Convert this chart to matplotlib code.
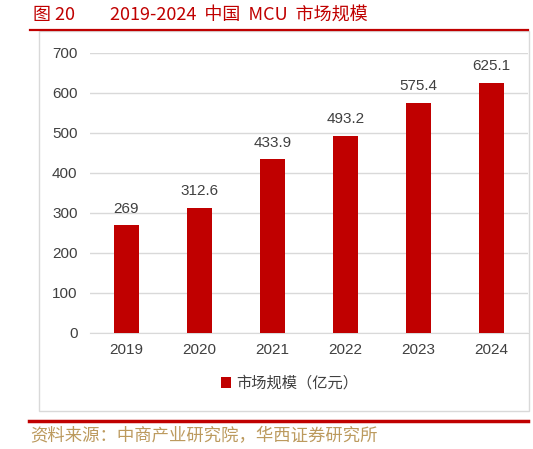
import matplotlib.pyplot as plt
from matplotlib.patches import Rectangle
from matplotlib.lines import Line2D

plt.rcParams['font.family'] = ['Noto Sans CJK SC', 'DejaVu Sans']

years = ['2019', '2020', '2021', '2022', '2023', '2024']
market_size = [269, 312.6, 433.9, 493.2, 575.4, 625.1]
value_labels = ['269', '312.6', '433.9', '493.2', '575.4', '625.1']
yticks = [0, 100, 200, 300, 400, 500, 600, 700]

red = '#C00000'
grey_text = '#404040'
num_font = ['Liberation Sans', 'DejaVu Sans']

fig = plt.figure(figsize=(5.33, 4.49), dpi=100)

# outer frame of the chart area
fig.patches.append(Rectangle((39 / 533, 1 - 411 / 449), (529 - 39) / 533, (411 - 31) / 449,
                             transform=fig.transFigure, fill=False, edgecolor='#D9D9D9', lw=1))
# title rule and footer rule
fig.lines.append(Line2D([30 / 533, 528 / 533], [1 - 30 / 449] * 2, transform=fig.transFigure,
                        color=red, lw=1.6))
fig.lines.append(Line2D([29 / 533, 528 / 533], [1 - 421 / 449] * 2, transform=fig.transFigure,
                        color=red, lw=2.5))

fig.text(33 / 533, 1 - 15 / 449, '图 20', color=red, fontsize=13, va='center', ha='left')
fig.text(110 / 533, 1 - 15 / 449, '2019-2024  中国  MCU  市场规模', color=red, fontsize=13,
         va='center', ha='left')
fig.text(30 / 533, 1 - 436 / 449, '资料来源：中商产业研究院，华西证券研究所', color='#BC9A5E',
         fontsize=12.5, va='center', ha='left')

ax = fig.add_axes([90 / 533, 1 - 333 / 449, (528 - 90) / 533, (333 - 53) / 449])
bars = ax.bar(years, market_size, width=0.33, color=red, zorder=3, label='市场规模（亿元）')
for b, lab in zip(bars, value_labels):
    ax.annotate(lab, (b.get_x() + b.get_width() / 2, b.get_height()), xytext=(0, 7),
                textcoords='offset points', ha='center', va='bottom',
                fontsize=11, color=grey_text, family=num_font)

ax.set_ylim(0, 700)
ax.set_xlim(-0.5, len(years) - 0.5)
ax.set_yticks(yticks)
ax.yaxis.grid(True, color='#D9D9D9', lw=1, zorder=0)
for s in ['top', 'right', 'left']:
    ax.spines[s].set_visible(False)
ax.spines['bottom'].set_color('#D9D9D9')
ax.tick_params(axis='both', length=0, labelsize=11, colors=grey_text, pad=7)
ax.tick_params(axis='y', pad=9)
for t in ax.get_xticklabels() + ax.get_yticklabels():
    t.set_family(num_font)

ax.legend(loc='center', bbox_to_anchor=(0.455, -0.18), frameon=False, fontsize=11,
          handlelength=0.7, handleheight=0.7, handletextpad=0.3, labelcolor=grey_text)

fig.savefig('out.png', dpi=100)
